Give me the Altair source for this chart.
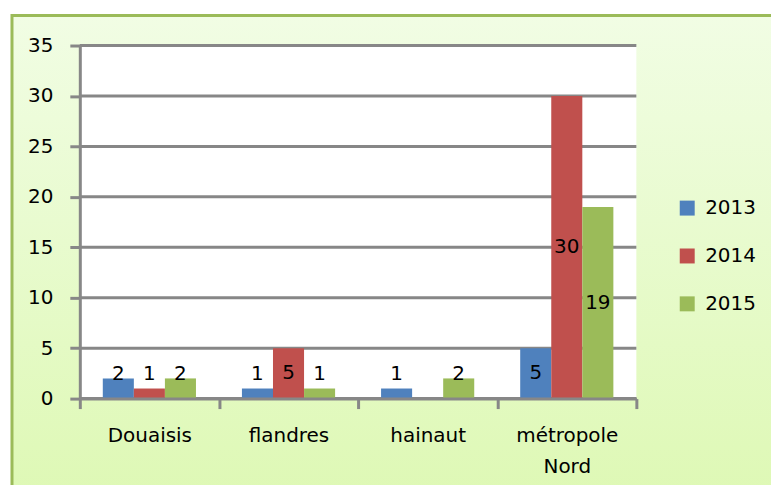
import altair as alt
import pandas as pd

regions = ["Douaisis", "flandres", "hainaut", "métropole Nord"]
years = ["2013", "2014", "2015"]
v2013 = [2, 1, 1, 5]
v2014 = [1, 5, None, 30]
v2015 = [2, 1, 2, 19]
y_ticks = [0, 5, 10, 15, 20, 25, 30, 35]
colors = ["#4f81bd", "#c0504d", "#9bbb59"]

rows = []
for yr, vals in zip(years, [v2013, v2014, v2015]):
    for r, v in zip(regions, vals):
        rows.append({"region": r, "year": yr, "value": v})
df = pd.DataFrame(rows)
ticks_df = pd.DataFrame({"tick": y_ticks})
one = pd.DataFrame({"a": [0]})

W, H = 558, 354
FONT = "DejaVu Sans"
GRID = "#878787"

yscale = alt.Scale(domain=[0, 35], nice=False)
yaxis = alt.Axis(values=y_ticks, grid=False, tickSize=10, tickWidth=3, tickColor=GRID,
                 domainColor=GRID, domainWidth=3, labelFont=FONT, labelFontSize=20,
                 labelColor="black", labelPadding=17, zindex=1)

bg = alt.Chart(one).mark_rect(
    fill={"gradient": "linear", "x1": 0, "y1": 0, "x2": 0, "y2": 1,
          "stops": [{"offset": 0, "color": "#f1fde4"},
                    {"offset": 1, "color": "#dcf8b0"}]},
    stroke="#9bbb59", strokeWidth=3
).encode(x=alt.value(-68), x2=alt.value(W + 200), y=alt.value(-30), y2=alt.value(H + 150))

plotbg = alt.Chart(one).mark_rect(fill="white").encode(
    x=alt.value(0), x2=alt.value(W), y=alt.value(0), y2=alt.value(H))

grid = alt.Chart(ticks_df).mark_rule(color=GRID, strokeWidth=3).encode(
    y=alt.Y("tick:Q", title=None, scale=yscale, axis=yaxis))

xenc = alt.X("region:N", sort=regions, title=None,
             scale=alt.Scale(paddingInner=0, paddingOuter=0),
             axis=alt.Axis(labelAngle=0, tickBand="extent", tickSize=10, tickWidth=3,
                           tickColor=GRID, domainColor=GRID, domainWidth=3,
                           labelFont=FONT, labelFontSize=20, labelColor="black",
                           labelPadding=17, labelLineHeight=31,
                           labelExpr="isValid(datum.value) ? split(datum.value, ' ') : ''",
                           zindex=1))
xoff = alt.XOffset("year:N", sort=years, scale=alt.Scale(paddingOuter=0.74, paddingInner=0))

bars = alt.Chart(df).mark_bar().encode(
    x=xenc,
    xOffset=xoff,
    y=alt.Y("value:Q", title=None, scale=yscale, axis=yaxis),
    color=alt.Color("year:N", sort=years, scale=alt.Scale(domain=years, range=colors),
                    legend=alt.Legend(title=None, orient="none", legendX=599, legendY=153,
                                      symbolType="square", symbolSize=225, symbolStrokeWidth=0,
                                      labelFont=FONT, labelFontSize=20, labelColor="black",
                                      labelOffset=8, rowPadding=28)),
)

labels = alt.Chart(df).transform_filter("isValid(datum.value)").transform_calculate(
    ypos="max(datum.value / 2, 2.4)"
).mark_text(font=FONT, fontSize=20, color="black", baseline="middle").encode(
    x=alt.X("region:N", sort=regions, title=None),
    xOffset=xoff,
    y=alt.Y("ypos:Q", title=None, scale=yscale, axis=yaxis),
    text=alt.Text("value:Q", format="d"),
)

chart = alt.layer(bg, plotbg, grid, bars, labels).properties(
    width=W, height=H,
    padding={"left": 72, "top": 37, "right": 135, "bottom": 86},
    autosize=alt.AutoSizeParams(type="none"),
    background="white",
).configure_view(stroke=None)

chart.save("out.html", embed_options={"renderer": "svg", "actions": False})
